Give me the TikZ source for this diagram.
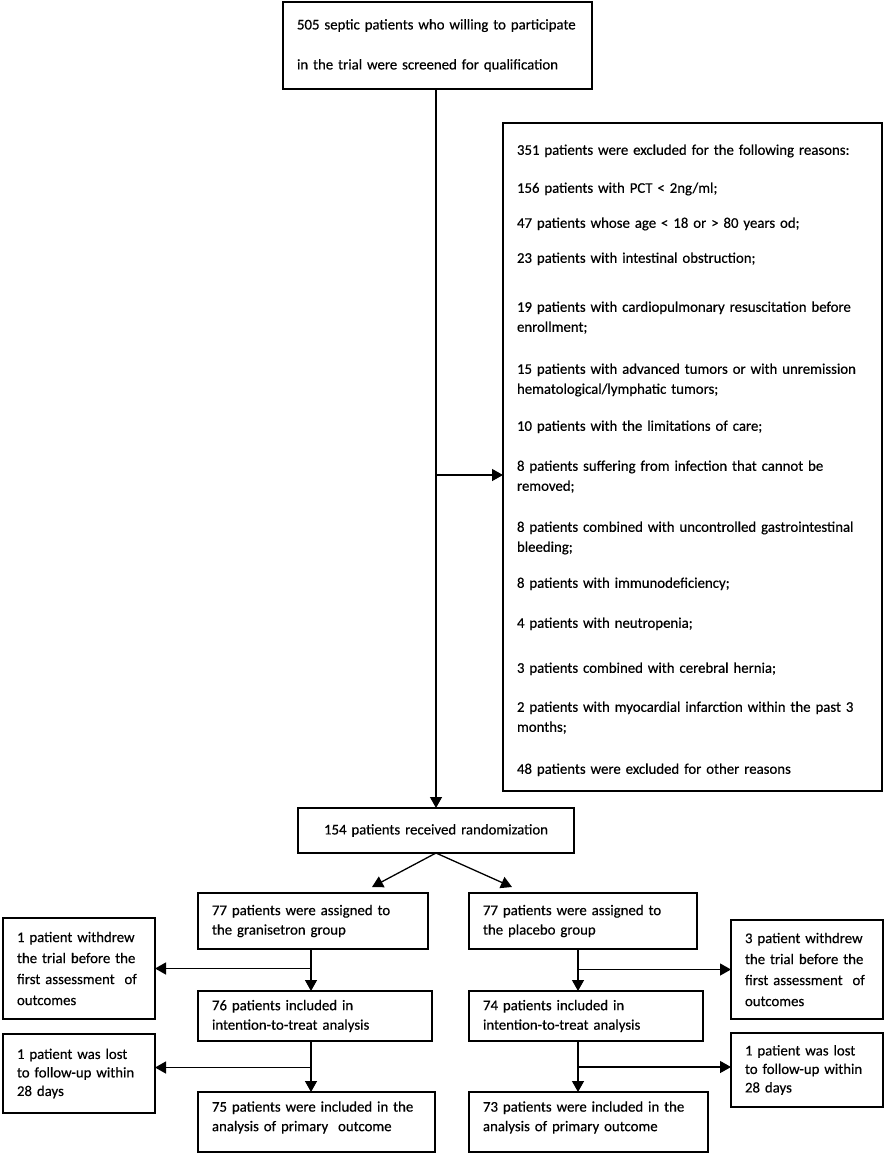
\documentclass[tikz,border=0pt]{standalone}
\usepackage{fontspec}
\setmainfont{Carlito}[FakeBold=0.4]
\usetikzlibrary{arrows.meta,calc}
\tikzset{every picture/.style={/utils/exec={\rmfamily}}}

\begin{document}
\begin{tikzpicture}[x=1pt,y=-1pt,
    box/.style={draw, line width=1.3pt, anchor=north west, align=left, outer sep=0pt,
        inner xsep=14pt, inner ysep=0pt, font=\fontsize{14.8}{19.5}\selectfont},
    arr/.style={line width=1.3pt, -{Triangle[length=11pt,width=12pt]}}]
    \useasboundingbox (0,0) rectangle (886,1154);
    % screening and exclusion
    \node [box, text width=281pt, minimum height=87pt, font=\fontsize{14.8}{40}\selectfont] (top) at (283,2)
        {505 septic patients who willing to participate\\in the trial were screened for qualification};
    \node [box, text width=351pt, minimum height=668pt, font=\fontsize{14.8}{20}\selectfont] (excl) at (503,123)
        {\mbox{}\\[-3pt]
        351 patients were excluded for the following reasons:\\[18pt]
        156 patients with PCT < 2ng/ml;\\[15pt]
        47 patients whose age < 18 or > 80 years od;\\[15pt]
        23 patients with intestinal obstruction;\\[29pt]
        19 patients with cardiopulmonary resuscitation before\\
        enrollment;\\[22pt]
        15 patients with advanced tumors or with unremission\\
        hematological/lymphatic tumors;\\[17pt]
        10 patients with the limitations of care;\\[20pt]
        8 patients suffering from infection that cannot be\\
        removed;\\[21pt]
        8 patients combined with uncontrolled gastrointestinal\\
        bleeding;\\[16pt]
        8 patients with immunodeficiency;\\[20pt]
        4 patients with neutropenia;\\[25pt]
        3 patients combined with cerebral hernia;\\[19pt]
        2 patients with myocardial infarction within the past 3\\
        months;\\[22pt]
        48 patients were excluded for other reasons};
    \node [box, text width=248pt, minimum height=45pt, align=center] (rand) at (298,808)
        {154 patients received randomization};
    % granisetron arm
    \node [box, text width=202pt, minimum height=56pt] (gran) at (198,893)
        {77 patients were assigned to\\the granisetron group};
    \node [box, text width=124pt, minimum height=101pt, font=\fontsize{14.8}{21}\selectfont] (wdl) at (3,918)
        {1 patient withdrew\\the trial before the\\first assessment~ of\\outcomes};
    \node [box, text width=206pt, minimum height=50pt] (g76) at (198,991)
        {76 patients included in\\intention-to-treat analysis};
    \node [box, text width=124pt, minimum height=79pt, font=\fontsize{14.8}{18.5}\selectfont] (gll) at (3,1034)
        {1 patient was lost\\to follow-up within\\28 days};
    \node [box, text width=209pt, minimum height=60pt] (g75) at (198,1092)
        {75 patients were included in the\\analysis of primary~ outcome\\[-8pt]\mbox{}};
    % placebo arm
    \node [box, text width=200pt, minimum height=56pt] (plac) at (469,893)
        {77 patients were assigned to\\the placebo group};
    \node [box, text width=124pt, minimum height=99pt, font=\fontsize{14.8}{21}\selectfont] (wdr) at (731,920)
        {3 patient withdrew\\the trial before the\\first assessment~ of\\outcomes};
    \node [box, text width=206pt, minimum height=50pt] (p74) at (469,991)
        {74 patients included in\\intention-to-treat analysis};
    \node [box, text width=124pt, minimum height=74pt, font=\fontsize{14.8}{18.5}\selectfont] (plr) at (731,1033)
        {1 patient was lost\\to follow-up within\\28 days};
    \node [box, text width=211pt, minimum height=60pt] (p73) at (469,1092)
        {73 patients were included in the\\analysis of primary outcome\\[-8pt]\mbox{}};
    % connectors
    \coordinate (split) at (436,475);
    \coordinate (gspine) at (311,0);
    \coordinate (pspine) at (578,0);
    \coordinate (gllin) at ([yshift=6pt]gll.east);
    \coordinate (plrin) at ([yshift=3pt]plr.west);
    \draw [arr] (rand.north |- top.south) -- (rand.north);
    \draw [arr] (split) -- (split -| excl.west);
    \draw [arr] (rand.south) -- ([shift={(59pt,6pt)}]gran.north);
    \draw [arr] (rand.south) -- ([shift={(-71pt,6pt)}]plac.north);
    \draw [arr] (gspine |- gran.south) -- (gspine |- g76.north);
    \draw [arr] (gspine |- wdl.east) -- (wdl.east);
    \draw [arr] (gspine |- g76.south) -- (gspine |- g75.north);
    \draw [arr] (gspine |- gllin) -- (gllin);
    \draw [arr] (pspine |- plac.south) -- (pspine |- p74.north);
    \draw [arr] (pspine |- wdr.west) -- (wdr.west);
    \draw [arr] (pspine |- p74.south) -- (pspine |- p73.north);
    \draw [arr] (pspine |- plrin) -- (plrin);
\end{tikzpicture}
\end{document}
